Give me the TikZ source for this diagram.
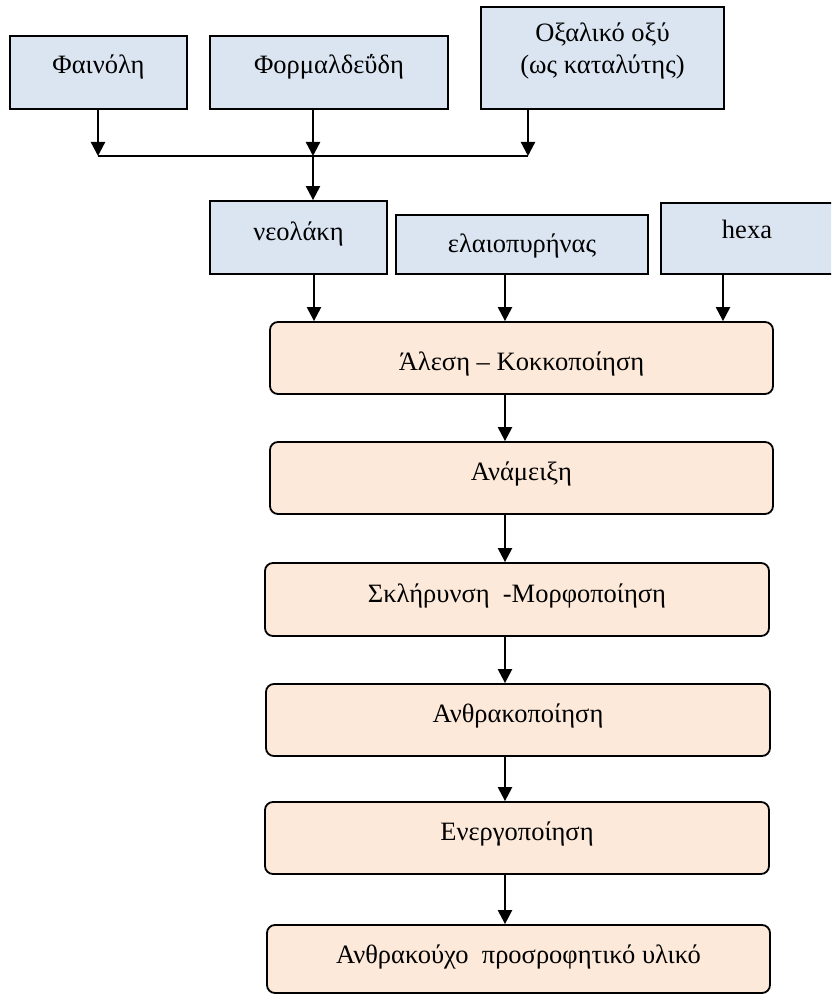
\documentclass[tikz,border=0pt]{standalone}
\usepackage{fontspec}
\setmainfont{Liberation Serif}
\usetikzlibrary{arrows.meta}
\definecolor{boxblue}{HTML}{DBE5F1}
\definecolor{boxpeach}{HTML}{FDE9D9}
\tikzset{
  bluebox/.style={draw=black, line width=1.8pt, fill=boxblue, inner sep=0pt},
  peachbox/.style={draw=black, line width=1.8pt, fill=boxpeach, rounded corners=8pt, inner sep=0pt},
  txt/.style={inner sep=0pt, anchor=base, font=\fontsize{26.5}{30}\selectfont},
  arr/.style={line width=2.3pt, -{Triangle[length=14pt,width=14pt]}},
  plain/.style={line width=2.3pt},
}
\begin{document}
\begin{tikzpicture}[x=1pt,y=-1pt]
\useasboundingbox (0,0) rectangle (831,995);
\clip (0,0) rectangle (831,995);
\fill[white] (0,0) rectangle (831,995);

% top row
\node[bluebox, minimum width=177pt, minimum height=73pt] (phen) at (98.5,72.5) {};
\node[bluebox, minimum width=238pt, minimum height=73pt] (form) at (329,72.5) {};
\node[bluebox, minimum width=243pt, minimum height=102pt] (oxal) at (602.5,58) {};
\node[txt] (phenT) at (98.5,74) {Φαινόλη};
\node[txt] (formT) at (329,74) {Φορμαλδεΰδη};
\node[txt] (oxalT1) at (602.5,42) {Οξαλικό οξύ};
\node[txt] (oxalT2) at (602.5,74) {(ως καταλύτης)};

% junction line
\coordinate (jL) at (98,156);
\coordinate (jM) at (313,156);
\coordinate (jR) at (528,156);

% second row
\node[bluebox, minimum width=177pt, minimum height=73pt] (neo) at (298.5,237.5) {};
\node[bluebox, minimum width=252pt, minimum height=59pt] (elaio) at (522,244.5) {};
\node[bluebox, minimum width=180pt, minimum height=71pt] (hexa) at (751,238.5) {};
\node[txt] (neoT) at (298.5,240) {νεολάκη};
\node[txt] (elaioT) at (522,252) {ελαιοπυρήνας};
\node[txt] (hexaT) at (747,238) {hexa};

% process boxes
\node[peachbox, minimum width=503pt, minimum height=72pt] (alesi) at (521.5,358) {};
\node[peachbox, minimum width=503pt, minimum height=72pt] (anam) at (521.5,478) {};
\node[peachbox, minimum width=504pt, minimum height=73pt] (sklir) at (517,599.5) {};
\node[peachbox, minimum width=504pt, minimum height=72pt] (anthr) at (518,720) {};
\node[peachbox, minimum width=504pt, minimum height=72pt] (energ) at (517,838) {};
\node[peachbox, minimum width=503pt, minimum height=68pt] (final) at (518.5,959) {};
\node[txt] (alesiT) at (521.5,370) {Άλεση – Κοκκοποίηση};
\node[txt] (anamT) at (521.5,480) {Ανάμειξη};
\node[txt] (sklirT) at (517,602) {Σκλήρυνση~~-Μορφοποίηση};
\node[txt] (anthrT) at (518,722) {Ανθρακοποίηση};
\node[txt] (energT) at (517,840) {Ενεργοποίηση};
\node[txt] (finalT) at (518.5,963) {Ανθρακούχο~~προσροφητικό υλικό};

% x references
\coordinate (xa) at (314,0);
\coordinate (xb) at (505,0);
\coordinate (xc) at (723,0);

% connectors top
\draw[arr] (phen.south -| jL) -- (jL);
\draw[arr] (form.south -| jM) -- (jM);
\draw[arr] (oxal.south -| jR) -- (jR);
\draw[plain] (jL) -- (jR);
\draw[arr] (jM) -- (neo.north -| jM);

% connectors second row
\draw[arr] (neo.south -| xa) -- (alesi.north -| xa);
\draw[arr] (elaio.south -| xb) -- (alesi.north -| xb);
\draw[arr] (hexa.south -| xc) -- (alesi.north -| xc);

% process chain
\draw[arr] (alesi.south -| xb) -- (anam.north -| xb);
\draw[arr] (anam.south -| xb) -- (sklir.north -| xb);
\draw[arr] (sklir.south -| xb) -- (anthr.north -| xb);
\draw[arr] (anthr.south -| xb) -- (energ.north -| xb);
\draw[arr] (energ.south -| xb) -- (final.north -| xb);
\end{tikzpicture}
\end{document}
